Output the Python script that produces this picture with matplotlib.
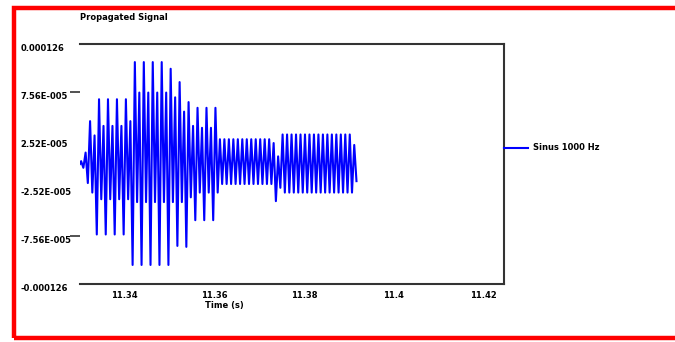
import numpy as np
import matplotlib
matplotlib.use("Agg")
import matplotlib.pyplot as plt
from matplotlib.patches import Rectangle

# signal: one positive and one negative peak per 1 ms cycle (units of 1e-5)
t_start = 11.33
cycle = 0.001
upper_peaks = [0.3, 1.2, 4.5, 3.0, 6.8, 4.0, 6.8, 4.0, 6.8, 4.0, 6.8, 4.5,
               10.7, 7.5, 10.7, 7.5, 10.7, 7.5, 10.7, 7.5, 10.0, 7.0, 8.6, 5.5,
               6.5, 4.0, 5.9, 3.8, 5.9, 3.8, 5.9,
               2.6, 2.6, 2.6, 2.6, 2.6, 2.6, 2.6, 2.6, 2.6, 2.6, 2.6, 2.6,
               2.2, 0.8,
               3.1, 3.1, 3.1, 3.1, 3.1, 3.1, 3.1, 3.1, 3.1, 3.1, 3.1, 3.1,
               3.1, 3.1, 3.1, 3.1, 2.0]
lower_peaks = [-0.4, -2.0, -3.0, -7.4, -3.7, -7.4, -3.7, -7.4, -3.7, -7.4, -3.7, -10.6,
               -4.0, -10.6, -4.0, -10.6, -4.0, -10.6, -4.0, -10.6, -4.0, -8.6, -4.0, -8.7,
               -3.5, -5.9, -3.0, -5.9, -3.0, -5.9, -3.0,
               -2.1, -2.1, -2.1, -2.1, -2.1, -2.1, -2.1, -2.1, -2.1, -2.1, -2.1, -2.1,
               -3.9, -2.5,
               -3.0, -3.0, -3.0, -3.0, -3.0, -3.0, -3.0, -3.0, -3.0, -3.0, -3.0, -3.0,
               -3.0, -3.0, -3.0, -3.0, -1.8]

ytick_vals = [0.000126, 7.56e-5, 2.52e-5, -2.52e-5, -7.56e-5, -0.000126]
ytick_labels = ["0.000126", "7.56E-005", "2.52E-005", "-2.52E-005", "-7.56E-005", "-0.000126"]
xtick_vals = [11.34, 11.36, 11.38, 11.40, 11.42]
xtick_labels = ["11.34", "11.36", "11.38", "11.4", "11.42"]

n = len(upper_peaks)
k = np.arange(n)
t = np.empty(2 * n)
y = np.empty(2 * n)
t[0::2] = t_start + (k + 0.25) * cycle
t[1::2] = t_start + (k + 0.75) * cycle
y[0::2] = upper_peaks
y[1::2] = lower_peaks
t = np.concatenate([[t_start], t])
y = np.concatenate([[0.0], y]) * 1e-5

fig = plt.figure(figsize=(6.75, 3.42), dpi=100)
ax = fig.add_axes([80 / 675, 1 - 284 / 342, 424 / 675, 240 / 342])

ax.plot(t, y, color="#0000ff", lw=1.5, label="Sinus 1000 Hz")

ax.set_xlim(11.33, 11.4247)
ax.set_ylim(-0.000126, 0.000126)

for side in ["top", "right", "bottom"]:
    ax.spines[side].set_color("#333333")
    ax.spines[side].set_linewidth(1.5)
ax.spines["left"].set_visible(False)

ax.set_xticks(xtick_vals)
ax.set_xticklabels(xtick_labels, fontsize=6, fontweight="bold")
ax.tick_params(axis="x", length=0, pad=5)

ax.set_yticks(ytick_vals)
ax.set_yticklabels(ytick_labels, fontsize=6, fontweight="bold")
ax.tick_params(axis="y", length=0, pad=43)
for lab in ax.get_yticklabels():
    lab.set_horizontalalignment("left")
    lab.set_verticalalignment("top")
ax.yaxis.remove_overlapping_locs = False
ax.set_yticks([7.56e-5, -7.56e-5], minor=True)
ax.tick_params(axis="y", which="minor", left=True, direction="out",
               length=7, width=1.2, color="#333333", pad=2)

ax.set_xlabel("Time (s)", fontsize=6, fontweight="bold")
ax.xaxis.set_label_coords(0.34, -0.07)

ax.set_title("Propagated Signal", loc="left", fontsize=6, fontweight="bold", pad=17)

ax.legend(loc="center left", bbox_to_anchor=(1.0, 0.567), frameon=False,
          prop={"size": 6, "weight": "bold"}, handlelength=2.9,
          handletextpad=0.6, borderaxespad=0, borderpad=0)

# red frame around the picture (right side runs off the image)
fig.add_artist(Rectangle((14.5 / 675, 1 - 337.5 / 342), 1.2, 330 / 342,
                         transform=fig.transFigure, fill=False,
                         edgecolor="#ff0000", lw=3.2, clip_on=False))

fig.savefig("out.png", dpi=100)
